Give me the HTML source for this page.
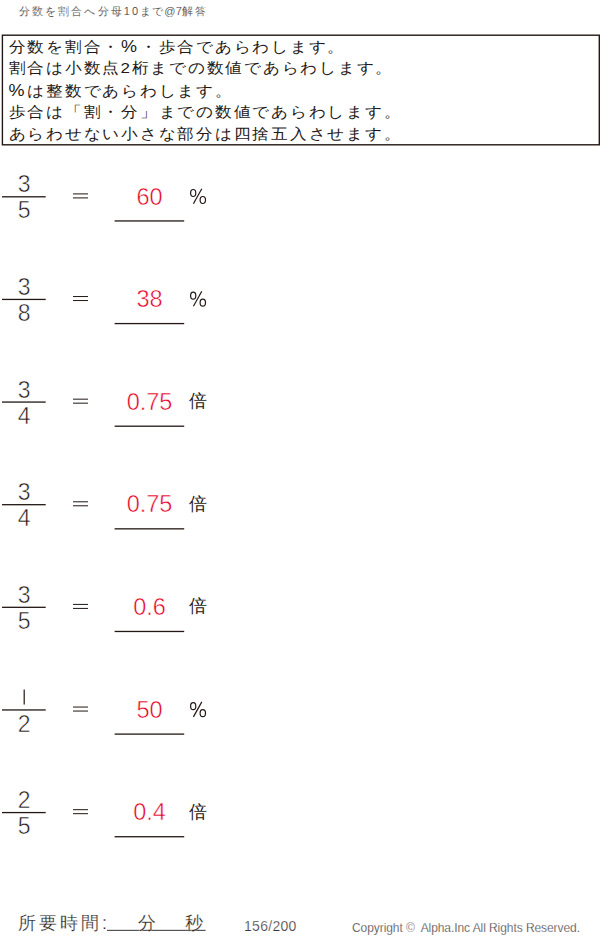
<!DOCTYPE html>
<html lang="ja"><head><meta charset="utf-8"><style>
html,body{margin:0;padding:0;background:#fff;}
body{width:600px;height:938px;position:relative;overflow:hidden;font-family:"Liberation Sans",sans-serif;color:#231815;}
.abs{position:absolute;white-space:nowrap;}
svg.ov{position:absolute;left:0;top:0;}
.title{left:19px;top:4px;font-size:11px;line-height:14px;color:#3a3434;letter-spacing:2.1px;-webkit-text-stroke:0.15px #fff;}
.box{position:absolute;left:0;top:0;}
.box p{margin:0;position:absolute;left:8.5px;font-size:17px;line-height:22px;height:22px;letter-spacing:1.75px;color:#231815;white-space:nowrap;transform:scaleY(0.9);transform-origin:0 50%;}
.box p span.w{letter-spacing:1.8px;margin-left:-0.6px;}
.box p span.pc{font-size:18px;letter-spacing:2.75px;}
.row{position:absolute;left:0;width:600px;height:0;}
.num{position:absolute;left:2.5px;width:43.5px;text-align:center;font-size:23px;line-height:22px;color:#231815;-webkit-text-stroke:0.5px #fff;}
.ans{position:absolute;left:114.5px;width:70px;text-align:center;font-size:23.5px;line-height:22px;color:#e6001e;-webkit-text-stroke:0.5px #fff;}
.unit{position:absolute;left:189px;font-size:20px;line-height:22px;color:#231815;-webkit-text-stroke:0.3px #fff;transform:scaleY(1.1);transform-origin:0 70%;}
.bai{position:absolute;left:188.5px;font-size:18px;line-height:22px;color:#231815;}
.foot{font-size:18px;line-height:22px;color:#231815;-webkit-text-stroke:0.25px #fff;}
</style></head><body>
<svg class="ov" width="600" height="938" viewBox="0 0 600 938"><rect x="2.4" y="35.2" width="596.9" height="109.6" fill="none" stroke="#231815" stroke-width="1.4"/><rect x="2" y="196.15" width="43.7" height="1.3" fill="#231815"/><rect x="73" y="193.40" width="15" height="1" fill="#231815"/><rect x="73" y="197.40" width="15" height="1" fill="#231815"/><rect x="114.6" y="220.30" width="69.6" height="1.3" fill="#231815"/><g fill="none" stroke="#231815" stroke-width="1.2"><ellipse cx="193.2" cy="193.00" rx="2.6" ry="3.5"/><ellipse cx="202.8" cy="200.00" rx="2.7" ry="3.5"/><path d="M201.8 188.70 L193.4 203.70"/></g><rect x="2" y="298.78" width="43.7" height="1.3" fill="#231815"/><rect x="73" y="296.03" width="15" height="1" fill="#231815"/><rect x="73" y="300.03" width="15" height="1" fill="#231815"/><rect x="114.6" y="322.93" width="69.6" height="1.3" fill="#231815"/><g fill="none" stroke="#231815" stroke-width="1.2"><ellipse cx="193.2" cy="295.63" rx="2.6" ry="3.5"/><ellipse cx="202.8" cy="302.63" rx="2.7" ry="3.5"/><path d="M201.8 291.33 L193.4 306.33"/></g><rect x="2" y="401.41" width="43.7" height="1.3" fill="#231815"/><rect x="73" y="398.66" width="15" height="1" fill="#231815"/><rect x="73" y="402.66" width="15" height="1" fill="#231815"/><rect x="114.6" y="425.56" width="69.6" height="1.3" fill="#231815"/><rect x="2" y="504.04" width="43.7" height="1.3" fill="#231815"/><rect x="73" y="501.29" width="15" height="1" fill="#231815"/><rect x="73" y="505.29" width="15" height="1" fill="#231815"/><rect x="114.6" y="528.19" width="69.6" height="1.3" fill="#231815"/><rect x="2" y="606.67" width="43.7" height="1.3" fill="#231815"/><rect x="73" y="603.92" width="15" height="1" fill="#231815"/><rect x="73" y="607.92" width="15" height="1" fill="#231815"/><rect x="114.6" y="630.82" width="69.6" height="1.3" fill="#231815"/><rect x="2" y="709.30" width="43.7" height="1.3" fill="#231815"/><rect x="73" y="706.55" width="15" height="1" fill="#231815"/><rect x="73" y="710.55" width="15" height="1" fill="#231815"/><rect x="114.6" y="733.45" width="69.6" height="1.3" fill="#231815"/><rect x="23.6" y="689.55" width="1.2" height="15" fill="#231815"/><g fill="none" stroke="#231815" stroke-width="1.2"><ellipse cx="193.2" cy="706.15" rx="2.6" ry="3.5"/><ellipse cx="202.8" cy="713.15" rx="2.7" ry="3.5"/><path d="M201.8 701.85 L193.4 716.85"/></g><rect x="2" y="811.93" width="43.7" height="1.3" fill="#231815"/><rect x="73" y="809.18" width="15" height="1" fill="#231815"/><rect x="73" y="813.18" width="15" height="1" fill="#231815"/><rect x="114.6" y="836.08" width="69.6" height="1.3" fill="#231815"/><rect x="107" y="929.8" width="98.6" height="1.2" fill="#555"/></svg>
<div class="abs title">分数を割合へ分母10<span style="letter-spacing:1px">まで</span><span style="letter-spacing:0.4px">@7</span>解答</div>
<div class="box">
<p style="top:35.8px">分数を割合・<span class="pc">%</span>・歩合であらわします。</p>
<p style="top:57.8px">割合は小数点<span class="w">2</span>桁までの数値であらわします。</p>
<p style="top:79.8px"><span class="pc">%</span>は整数であらわします。</p>
<p style="top:101.8px">歩合は「割・分」までの数値であらわします。</p>
<p style="top:123.8px">あらわせない小さな部分は四捨五入させます。</p>
</div>
<div class="row" style="top:196.80px">
<div class="num" style="top:-23.5px">3</div><div class="num" style="top:2.7px">5</div>
<div class="ans" style="top:-11.3px">60</div>

</div>
<div class="row" style="top:299.43px">
<div class="num" style="top:-23.5px">3</div><div class="num" style="top:2.7px">8</div>
<div class="ans" style="top:-11.3px">38</div>

</div>
<div class="row" style="top:402.06px">
<div class="num" style="top:-23.5px">3</div><div class="num" style="top:2.7px">4</div>
<div class="ans" style="top:-11.3px">0.75</div>
<div class="bai" style="top:-12px">倍</div>
</div>
<div class="row" style="top:504.69px">
<div class="num" style="top:-23.5px">3</div><div class="num" style="top:2.7px">4</div>
<div class="ans" style="top:-11.3px">0.75</div>
<div class="bai" style="top:-12px">倍</div>
</div>
<div class="row" style="top:607.32px">
<div class="num" style="top:-23.5px">3</div><div class="num" style="top:2.7px">5</div>
<div class="ans" style="top:-11.3px">0.6</div>
<div class="bai" style="top:-12px">倍</div>
</div>
<div class="row" style="top:709.95px">
<div class="num" style="top:2.7px">2</div>
<div class="ans" style="top:-11.3px">50</div>

</div>
<div class="row" style="top:812.58px">
<div class="num" style="top:-23.5px">2</div><div class="num" style="top:2.7px">5</div>
<div class="ans" style="top:-11.3px">0.4</div>
<div class="bai" style="top:-12px">倍</div>
</div>
<div class="abs foot" style="left:18px;top:912px;letter-spacing:3px">所要時間<span style="letter-spacing:0">:</span></div>
<div class="abs foot" style="left:138px;top:912px">分</div>
<div class="abs foot" style="left:185px;top:912px">秒</div>
<div class="abs" style="left:244px;top:918px;font-size:14px;line-height:16px;letter-spacing:0.3px;color:#3a3434;-webkit-text-stroke:0.25px #fff">156/200</div>
<div class="abs" style="left:352px;top:920px;font-size:12px;line-height:16px;letter-spacing:-0.07px;color:#3a3434;-webkit-text-stroke:0.25px #fff">Copyright ©&nbsp; Alpha.Inc All Rights Reserved.</div>
</body></html>
